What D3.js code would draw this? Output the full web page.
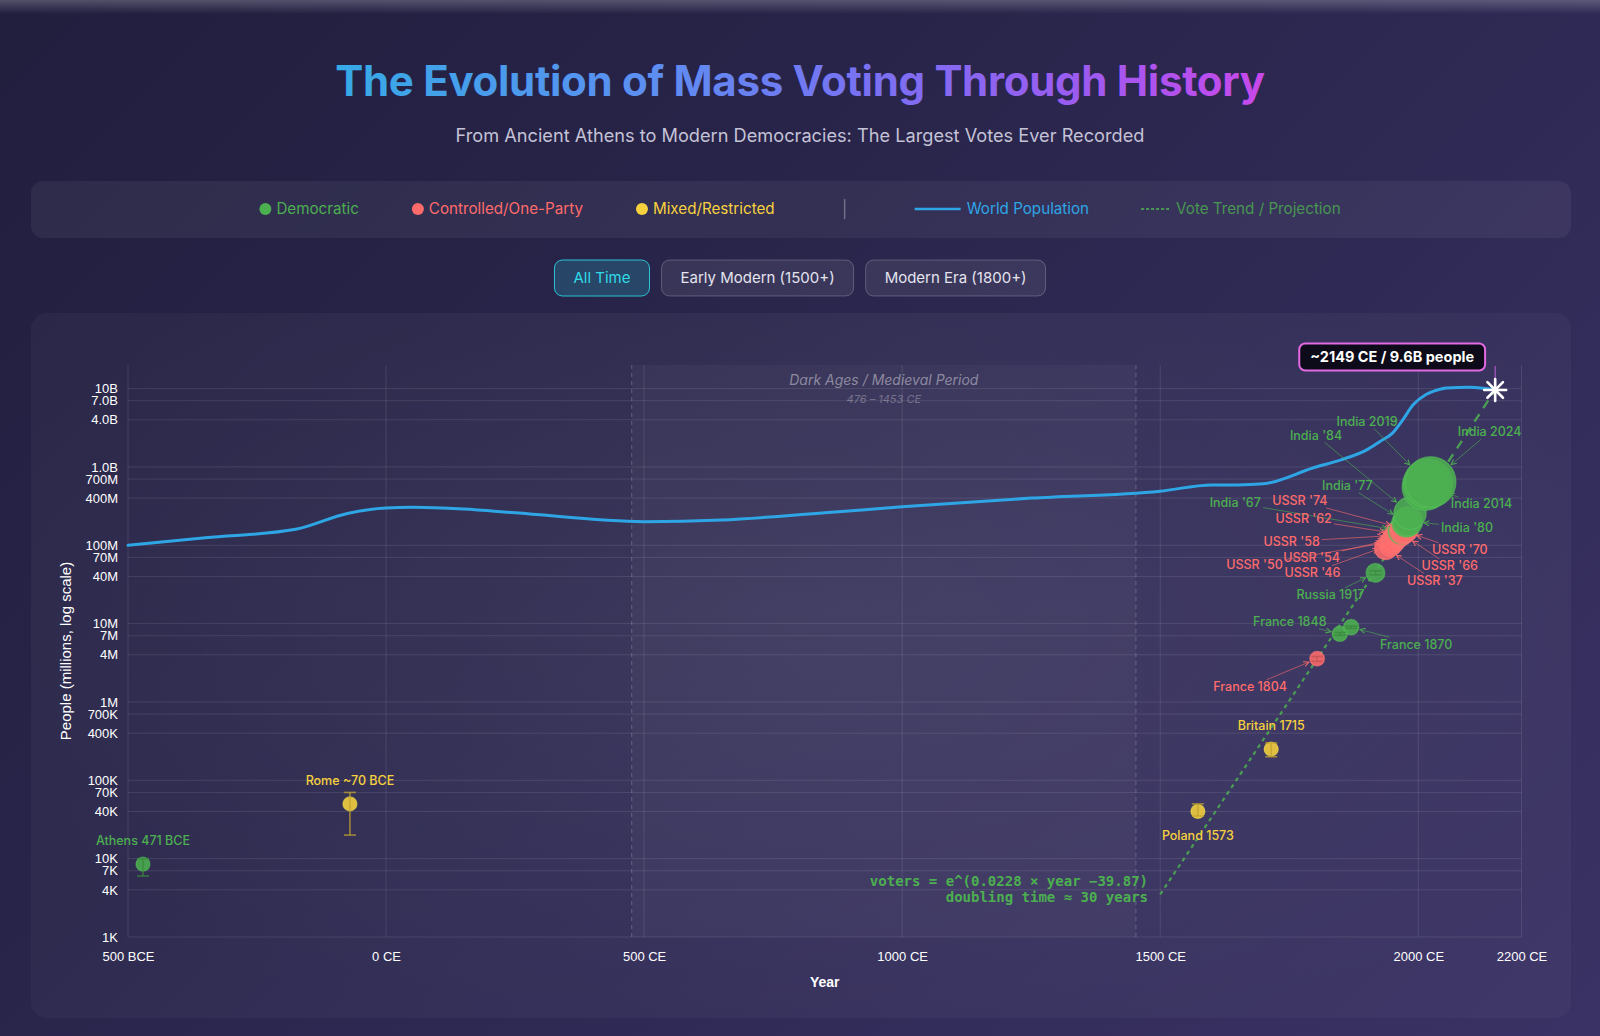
<!DOCTYPE html>
<html>
<head>
<meta charset="utf-8">
<title>The Evolution of Mass Voting Through History</title>
<script src="https://cdn.jsdelivr.net/npm/d3@7"></script>
<style>
  html, body { margin: 0; padding: 0; width: 1600px; height: 1036px; overflow: hidden; }
  body {
    background: linear-gradient(135deg, #211e3e 0%, #29254b 40%, #332d5b 75%, #3a3264 100%);
    font-family: Inter, "Noto Sans", sans-serif;
  }
  .topbar {
    position: absolute; left: 0; top: 0; width: 1600px; height: 14px;
    background: linear-gradient(180deg, rgba(255,255,255,0.22), rgba(255,255,255,0));
  }
  #chart { position: absolute; left: 0; top: 0; }
</style>
</head>
<body>
<div class="topbar"></div>
<svg id="chart" width="1600" height="1036"></svg>
<script>
// ---- data ----
var voteLabels = ["Athens 471 BCE", "Rome ~70 BCE", "Poland 1573", "Britain 1715", "France 1804",
  "France 1848", "France 1870", "Russia 1917", "USSR '37", "USSR '46", "USSR '50", "USSR '54",
  "USSR '58", "USSR '62", "USSR '66", "India '67", "USSR '70", "USSR '74", "India '77",
  "India '80", "India '84", "India 2014", "India 2019", "India 2024"];
var voteYears = [-471, -70, 1573, 1715, 1804, 1848, 1870, 1917, 1937, 1946, 1950, 1954,
  1958, 1962, 1966, 1967, 1970, 1974, 1977, 1980, 1984, 2014, 2019, 2024];
var voteCounts = [8500, 50000, 40000, 250000, 3.57e6, 7.4e6, 9.0e6, 44.4e6, 91.1e6, 101.7e6,
  111.1e6, 120.6e6, 133.8e6, 139.2e6, 143.6e6, 152.7e6, 153.2e6, 161.7e6, 194.3e6,
  202.8e6, 256e6, 554e6, 614e6, 642e6];
var voteTypes = ["democratic", "mixed", "mixed", "mixed", "controlled", "democratic", "democratic",
  "democratic", "controlled", "controlled", "controlled", "controlled", "controlled", "controlled",
  "controlled", "democratic", "controlled", "controlled", "democratic", "democratic", "democratic",
  "democratic", "democratic", "democratic"];
var voteLow = [6000, 20000, 35000, 200000, 3.3e6, 7.1e6, 8.7e6, 42e6, null, null, null, null,
  null, null, null, null, null, null, null, null, null, null, null, null];
var voteHigh = [10000, 70000, 50000, 300000, 3.8e6, 7.7e6, 9.3e6, 47e6, null, null, null, null,
  null, null, null, null, null, null, null, null, null, null, null, null];

var popYears = [-500, -350, -175, -75, 0, 50, 150, 250, 500, 650, 850, 1000, 1250, 1500,
  1600, 1650, 1700, 1800, 1850, 1900, 1925, 1950, 1970, 1990, 2015, 2030, 2055, 2100, 2149];
var popValues = [1.0e8, 1.25e8, 1.6e8, 2.55e8, 3.0e8, 3.05e8, 2.9e8, 2.6e8, 2.0e8, 2.1e8,
  2.6e8, 3.1e8, 4.0e8, 4.9e8, 5.9e8, 5.9e8, 6.1e8, 9.9e8, 1.23e9, 1.65e9, 2.1e9, 2.7e9,
  4.0e9, 6.2e9, 8.4e9, 9.3e9, 10.2e9, 10.4e9, 9.6e9];

var trendYears = [1500, 2024];
var trendValues = [3.5e3, 5.3e8];
var projYears = [2024, 2149];
var projValues = [5.3e8, 9.6e9];

var xTicks = [-500, 0, 500, 1000, 1500, 2000, 2200];
var xTickLabels = ["500 BCE", "0 CE", "500 CE", "1000 CE", "1500 CE", "2000 CE", "2200 CE"];
var yTicks = [1e3, 4e3, 7e3, 1e4, 4e4, 7e4, 1e5, 4e5, 7e5, 1e6, 4e6, 7e6, 1e7, 4e7, 7e7,
  1e8, 4e8, 7e8, 1e9, 4e9, 7e9, 1e10];
var yTickLabels = ["1K", "4K", "7K", "10K", "40K", "70K", "100K", "400K", "700K", "1M", "4M",
  "7M", "10M", "40M", "70M", "100M", "400M", "700M", "1.0B", "4.0B", "7.0B", "10B"];

var darkAges = [476, 1453];
var peakYear = 2149, peakPop = 9.6e9;

var legendLabels = ["Democratic", "Controlled/One-Party", "Mixed/Restricted", "World Population", "Vote Trend / Projection"];
var buttonLabels = ["All Time", "Early Modern (1500+)", "Modern Era (1800+)"];

// ---- layout / style ----
var colors = { democratic: "#4caf50", controlled: "#ff6b6b", mixed: "#f7d13d" };
var popColor = "#2ea6e6";
var pLeft = 128, pRight = 1521.5, pTop = 365, pBottom = 937;

// label offsets (label centre relative to mark), keyed by label
var labelOffsets = {
  "Athens 471 BCE": [0, -24], "Rome ~70 BCE": [0, -23], "Poland 1573": [0, 24], "Britain 1715": [0, -24],
  "France 1804": [-67, 28], "France 1848": [-50, -12], "France 1870": [65, 17], "Russia 1917": [-45, 22],
  "USSR '37": [49, 32], "USSR '46": [-78, 28], "USSR '50": [-138, 23], "USSR '54": [-83, 19],
  "USSR '58": [-105, 6], "USSR '62": [-95, -15], "USSR '66": [49, 33], "India '67": [-166, -28],
  "USSR '70": [57, 19], "USSR '74": [-105, -28], "India '77": [-59, -37], "India '80": [59, 6],
  "India '84": [-94, -78], "India 2014": [56, 17], "India 2019": [-61, -62], "India 2024": [59, -50]
};

var svg = d3.select("#chart");
var defs = svg.append("defs");

// ---- header ----
var tg = defs.append("linearGradient").attr("id", "titleGrad").attr("x1", "0%").attr("x2", "100%");
[["0%", "#36aae6"], ["35%", "#5e8df2"], ["58%", "#7a70f2"], ["80%", "#9c5bf0"], ["100%", "#c848ea"]]
  .forEach(function(s) { tg.append("stop").attr("offset", s[0]).attr("stop-color", s[1]); });

svg.append("text")
  .attr("x", 800).attr("y", 96)
  .attr("text-anchor", "middle")
  .attr("font-size", 42).attr("font-weight", 700)
  .attr("letter-spacing", "-0.3")
  .attr("fill", "url(#titleGrad)")
  .text("The Evolution of Mass Voting Through History");

svg.append("text")
  .attr("x", 800).attr("y", 142)
  .attr("text-anchor", "middle")
  .attr("font-size", 18.2)
  .attr("fill", "#c4c2d6")
  .text("From Ancient Athens to Modern Democracies: The Largest Votes Ever Recorded");

// legend panel
svg.append("rect").attr("x", 31).attr("y", 181).attr("width", 1540).attr("height", 57)
  .attr("rx", 12).attr("fill", "rgba(255,255,255,0.055)");

var legend = svg.append("g");
var lx = 0, ly = 209;
var legendColors = [colors.democratic, colors.controlled, colors.mixed, popColor, colors.democratic];
legendLabels.forEach(function(lab, i) {
  if (i < 3) {
    legend.append("circle").attr("cx", lx + 6).attr("cy", ly).attr("r", 6).attr("fill", legendColors[i]);
    lx += 17;
  } else if (i === 3) {
    lx += 70;
    legend.append("line").attr("x1", lx).attr("x2", lx).attr("y1", ly - 10).attr("y2", ly + 10)
      .attr("stroke", "rgba(255,255,255,0.3)").attr("stroke-width", 1.5);
    lx += 70;
    legend.append("line").attr("x1", lx).attr("x2", lx + 46).attr("y1", ly).attr("y2", ly)
      .attr("stroke", popColor).attr("stroke-width", 2.5);
    lx += 52;
  } else {
    legend.append("line").attr("x1", lx).attr("x2", lx + 30).attr("y1", ly).attr("y2", ly)
      .attr("stroke", colors.democratic).attr("stroke-width", 2).attr("stroke-dasharray", "3,2")
      .attr("opacity", 0.8);
    lx += 35;
  }
  var t = legend.append("text").attr("x", lx).attr("y", ly + 5)
    .attr("font-size", 15.2).attr("fill", legendColors[i])
    .attr("opacity", i === 4 ? 0.8 : 1)
    .text(lab);
  lx += t.node().getComputedTextLength();
  if (i < 2) lx += 53;
  else if (i === 3) lx += 52;
});
legend.attr("transform", "translate(" + (800 - lx / 2) + ",0)");

// buttons
var btn = svg.append("g");
var bx = 0;
buttonLabels.forEach(function(lab, i) {
  var g = btn.append("g");
  var t = g.append("text").attr("y", 283).attr("font-size", 15)
    .attr("fill", i === 0 ? "#2fdbe6" : "#e4e3ee").text(lab);
  var w = t.node().getComputedTextLength() + 38;
  g.insert("rect", "text").attr("x", bx).attr("y", 260).attr("width", w).attr("height", 36).attr("rx", 8)
    .attr("fill", i === 0 ? "rgba(40,190,215,0.22)" : "rgba(255,255,255,0.08)")
    .attr("stroke", i === 0 ? "#2cc3d6" : "rgba(255,255,255,0.22)").attr("stroke-width", 1);
  t.attr("x", bx + 19);
  bx += w + 12;
});
btn.attr("transform", "translate(" + (800 - (bx - 12) / 2) + ",0)");

// chart panel
var pg = defs.append("radialGradient").attr("id", "panelGlow").attr("cx", "50%").attr("cy", "45%").attr("r", "60%");
pg.append("stop").attr("offset", "0%").attr("stop-color", "rgba(255,255,255,0.08)");
pg.append("stop").attr("offset", "100%").attr("stop-color", "rgba(255,255,255,0.03)");
svg.append("rect").attr("x", 31).attr("y", 313).attr("width", 1540).attr("height", 705)
  .attr("rx", 16).attr("fill", "url(#panelGlow)");

// ---- scales ----
var x = d3.scaleLinear().domain([-500, 2200]).range([pLeft, pRight]);
var y = d3.scaleLog().domain([1e3, 2e10]).range([pBottom, pTop]);
var r = d3.scalePow().exponent(0.75).domain([0, 650e6]).range([7, 25.5]);

var plot = svg.append("g");

// dark ages band
plot.append("rect").attr("x", x(darkAges[0])).attr("y", pTop)
  .attr("width", x(darkAges[1]) - x(darkAges[0])).attr("height", pBottom - pTop)
  .attr("fill", "rgba(255,255,255,0.03)");

// grid
plot.append("g").selectAll("line").data(yTicks).enter().append("line")
  .attr("x1", pLeft).attr("x2", pRight)
  .attr("y1", function(d) { return y(d); }).attr("y2", function(d) { return y(d); })
  .attr("stroke", "rgba(255,255,255,0.1)").attr("stroke-width", 1);
plot.append("g").selectAll("line").data(xTicks).enter().append("line")
  .attr("y1", pTop).attr("y2", pBottom)
  .attr("x1", function(d) { return x(d); }).attr("x2", function(d) { return x(d); })
  .attr("stroke", "rgba(255,255,255,0.1)").attr("stroke-width", 1);

plot.selectAll(".dark-edge").data(darkAges).enter().append("line")
  .attr("class", "dark-edge")
  .attr("x1", function(d) { return x(d); }).attr("x2", function(d) { return x(d); })
  .attr("y1", pTop).attr("y2", pBottom)
  .attr("stroke", "rgba(255,255,255,0.22)").attr("stroke-dasharray", "4,4");

var midDark = x((darkAges[0] + darkAges[1]) / 2);
plot.append("text").attr("x", midDark).attr("y", 385).attr("text-anchor", "middle")
  .attr("font-size", 14).attr("font-style", "italic").attr("fill", "rgba(255,255,255,0.42)")
  .text("Dark Ages / Medieval Period");
plot.append("text").attr("x", midDark).attr("y", 403).attr("text-anchor", "middle")
  .attr("font-size", 11).attr("font-style", "italic").attr("fill", "rgba(255,255,255,0.3)")
  .text(darkAges[0] + " – " + darkAges[1] + " CE");

// axes
var yAxis = d3.axisLeft(y).tickValues(yTicks)
  .tickFormat(function(d, i) { return yTickLabels[i]; }).tickSize(0).tickPadding(10);
var gy = plot.append("g").attr("transform", "translate(" + pLeft + ",0)").call(yAxis);
var xAxis = d3.axisBottom(x).tickValues(xTicks)
  .tickFormat(function(d, i) { return xTickLabels[i]; }).tickSize(0).tickPadding(15);
var gx = plot.append("g").attr("transform", "translate(0," + pBottom + ")").call(xAxis);
[gx, gy].forEach(function(g) {
  g.select(".domain").remove();
  g.selectAll("text").attr("fill", "#ffffff").attr("font-size", 13)
    .attr("font-family", "'Liberation Sans', Arial, sans-serif");
});

plot.append("text").attr("x", (pLeft + pRight) / 2).attr("y", 987).attr("text-anchor", "middle")
  .attr("font-size", 14).attr("font-weight", 600).attr("fill", "#fff")
  .attr("font-family", "'Liberation Sans', Arial, sans-serif").text("Year");
plot.append("text").attr("transform", "translate(71," + ((pTop + pBottom) / 2) + ") rotate(-90)")
  .attr("text-anchor", "middle").attr("font-size", 15).attr("fill", "#fff")
  .attr("font-family", "'Liberation Sans', Arial, sans-serif").text("People (millions, log scale)");

// world population
var popLine = d3.line()
  .x(function(d, i) { return x(popYears[i]); })
  .y(function(d) { return y(d); })
  .curve(d3.curveMonotoneX);
plot.append("path").attr("d", popLine(popValues)).attr("fill", "none")
  .attr("stroke", popColor).attr("stroke-width", 3).attr("stroke-linecap", "round");

// trend + projection
var trendLine = function(ys, vs) {
  return d3.line().x(function(d, i) { return x(ys[i]); }).y(function(d) { return y(d); })(vs);
};
plot.append("path").attr("d", trendLine(trendYears, trendValues)).attr("fill", "none")
  .attr("stroke", colors.democratic).attr("stroke-width", 2.2).attr("stroke-dasharray", "4,4").attr("opacity", 0.85);
plot.append("path").attr("d", trendLine(projYears, projValues)).attr("fill", "none")
  .attr("stroke", colors.democratic).attr("stroke-width", 2.4).attr("stroke-dasharray", "9,7").attr("opacity", 0.85);

plot.append("text").attr("x", 1148).attr("y", 886).attr("text-anchor", "end")
  .attr("font-family", "'DejaVu Sans Mono', monospace").attr("font-weight", 700).attr("font-size", 14)
  .attr("fill", colors.democratic).text("voters = e^(0.0228 × year −39.87)");
plot.append("text").attr("x", 1148).attr("y", 902).attr("text-anchor", "end")
  .attr("font-family", "'DejaVu Sans Mono', monospace").attr("font-weight", 700).attr("font-size", 14)
  .attr("fill", colors.democratic).text("doubling time ≈ 30 years");

// votes
var votes = voteLabels.map(function(lab, i) {
  return { label: lab, year: voteYears[i], value: voteCounts[i], type: voteTypes[i],
    low: voteLow[i], high: voteHigh[i] };
});

Object.keys(colors).forEach(function(k) {
  defs.append("marker").attr("id", "arrow-" + k).attr("viewBox", "0 0 8 8")
    .attr("refX", 7).attr("refY", 4).attr("markerWidth", 6).attr("markerHeight", 6)
    .attr("orient", "auto")
    .append("path").attr("d", "M0,0.5 L7,4 L0,7.5").attr("fill", "none")
    .attr("stroke", colors[k]).attr("stroke-width", 1.3);
});

var marks = plot.append("g");
marks.selectAll("circle").data(votes).enter().append("circle")
  .attr("cx", function(d) { return x(d.year); })
  .attr("cy", function(d) { return y(d.value); })
  .attr("r", function(d) { return r(d.value); })
  .attr("fill", function(d) { return colors[d.type]; })
  .attr("fill-opacity", 0.88)
  .attr("stroke", function(d) { return d3.color(colors[d.type]).brighter(0.4); })
  .attr("stroke-opacity", 0.5).attr("stroke-width", 1.2);

var errs = votes.filter(function(d) { return d.low != null; });
var eg = marks.selectAll(".err").data(errs).enter().append("g").attr("class", "err")
  .attr("stroke", function(d) { return d3.color(colors[d.type]).darker(0.7); })
  .attr("stroke-opacity", 0.75).attr("stroke-width", 1.6);
eg.append("line")
  .attr("x1", function(d) { return x(d.year); }).attr("x2", function(d) { return x(d.year); })
  .attr("y1", function(d) { return y(d.low); }).attr("y2", function(d) { return y(d.high); });
eg.append("line")
  .attr("x1", function(d) { return x(d.year) - 6; }).attr("x2", function(d) { return x(d.year) + 6; })
  .attr("y1", function(d) { return y(d.low); }).attr("y2", function(d) { return y(d.low); });
eg.append("line")
  .attr("x1", function(d) { return x(d.year) - 6; }).attr("x2", function(d) { return x(d.year) + 6; })
  .attr("y1", function(d) { return y(d.high); }).attr("y2", function(d) { return y(d.high); });

// labels + leader lines
var labelG = plot.append("g");
votes.forEach(function(d) {
  var px = x(d.year), py = y(d.value), off = labelOffsets[d.label];
  var lxp = px + off[0], lyp = py + off[1];
  var t = labelG.append("text").attr("x", lxp).attr("y", lyp).attr("dy", "0.35em")
    .attr("text-anchor", "middle").attr("font-size", 12.5).attr("font-weight", 500)
    .attr("fill", colors[d.type]).text(d.label);
  if (off[0] === 0) return;
  var bb = t.node().getBBox();
  var w = bb.width / 2 + 2, h = 7;
  var dx = px - lxp, dy = py - lyp;
  var s = Math.min(Math.abs(dx) > 0 ? w / Math.abs(dx) : Infinity, Math.abs(dy) > 0 ? h / Math.abs(dy) : Infinity);
  var sx = lxp + dx * s, sy = lyp + dy * s;
  var len = Math.sqrt((px - sx) * (px - sx) + (py - sy) * (py - sy));
  var rr = r(d.value) + 1.5;
  var ex = px - (px - sx) / len * rr, ey = py - (py - sy) / len * rr;
  labelG.insert("line", "text").attr("x1", sx).attr("y1", sy).attr("x2", ex).attr("y2", ey)
    .attr("stroke", colors[d.type]).attr("stroke-opacity", 0.6).attr("stroke-width", 1)
    .attr("marker-end", "url(#arrow-" + d.type + ")");
});

// peak star + annotation
var sxp = x(peakYear), syp = y(peakPop);
plot.append("line").attr("x1", sxp).attr("x2", sxp).attr("y1", 366).attr("y2", syp - 6)
  .attr("stroke", "#c060d8").attr("stroke-width", 1);
var star = plot.append("g").attr("transform", "translate(" + sxp + "," + syp + ")");
[0, 45, 90, 135].forEach(function(a) {
  star.append("line").attr("x1", -11).attr("x2", 11).attr("y1", 0).attr("y2", 0)
    .attr("transform", "rotate(" + a + ")").attr("stroke", "#fff").attr("stroke-width", 2.6)
    .attr("stroke-linecap", "round");
});
var ann = plot.append("g").attr("transform", "translate(" + (sxp - 103) + "," + (syp - 33) + ")");
var annText = ann.append("text").attr("text-anchor", "middle").attr("dy", "0.35em")
  .attr("font-size", 14.5).attr("font-weight", 700).attr("fill", "#fff")
  .text("~" + peakYear + " CE / " + (peakPop / 1e9).toFixed(1) + "B people");
var aw = annText.node().getComputedTextLength() + 22;
ann.insert("rect", "text").attr("x", -aw / 2).attr("y", -13.5).attr("width", aw).attr("height", 27)
  .attr("rx", 6).attr("fill", "rgba(10,8,20,0.92)").attr("stroke", "#e36ae3").attr("stroke-width", 2);
</script>
</body>
</html>
